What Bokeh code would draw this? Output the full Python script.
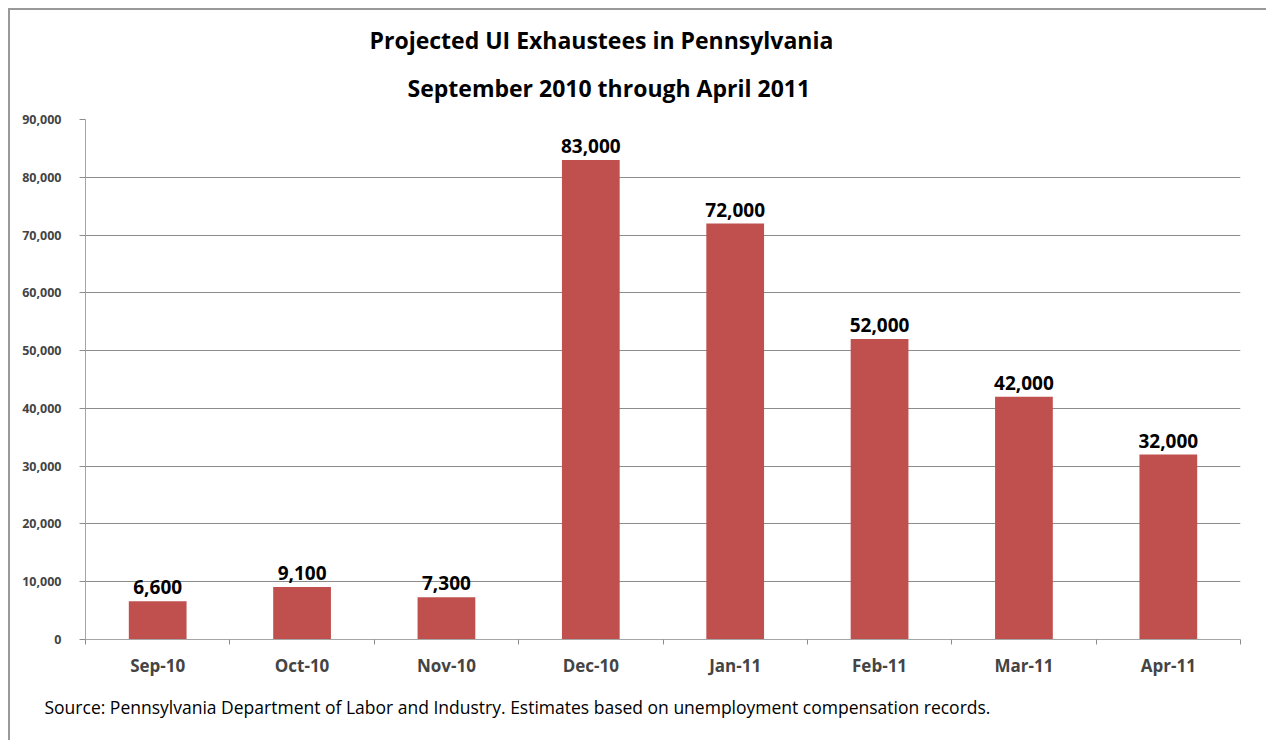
from bokeh.plotting import figure
from bokeh.models import (Range1d, LinearAxis, FixedTicker, Title,
                          NumeralTickFormatter, ColumnDataSource, LabelSet)
from bokeh.core.properties import value
from bokeh.embed import file_html
from bokeh.resources import INLINE

months = ["Sep-10", "Oct-10", "Nov-10", "Dec-10", "Jan-11", "Feb-11", "Mar-11", "Apr-11"]
exhaustees = [6600, 9100, 7300, 83000, 72000, 52000, 42000, 32000]
value_labels = ["6,600", "9,100", "7,300", "83,000", "72,000", "52,000", "42,000", "32,000"]
y_ticks = [0, 10000, 20000, 30000, 40000, 50000, 60000, 70000, 80000, 90000]
title_lines = ["Projected UI Exhaustees in Pennsylvania", "September 2010 through April 2011"]
source_note = "Source: Pennsylvania Department of Labor and Industry.  Estimates based on unemployment compensation records."

FONT = "Open Sans"
W, H = 1258, 732
GRAY = "#8c8c8c"

n = len(months)
centers = [i + 0.5 for i in range(n)]

p = figure(width=W, height=H, x_range=Range1d(0, n), y_range=Range1d(0, 90000),
           output_backend="svg", toolbar_location=None, x_axis_location=None,
           min_border_left=75, min_border_right=28, min_border_top=109, min_border_bottom=103)
p.styles = {"margin": "8px 0 0 8px",
            "border-left": "2px solid #999999", "border-top": "2px solid #999999"}
p.outline_line_color = None
p.background_fill_color = "white"
p.border_fill_color = "white"
p.xgrid.grid_line_color = None
p.ygrid.grid_line_color = GRAY
p.ygrid.ticker = FixedTicker(ticks=y_ticks)

# title: first line is the plot title (outermost), second line sits nearer the frame
p.title = Title(text=title_lines[0], align="left", offset=284, standoff=-4,
                text_font=FONT, text_font_style="bold", text_font_size="23px",
                text_color="black")
p.add_layout(Title(text=title_lines[1], align="left", offset=322, standoff=32,
                   text_font=FONT, text_font_style="bold", text_font_size="23px",
                   text_color="black"), "above")

yax = p.yaxis[0]
yax.ticker = FixedTicker(ticks=y_ticks)
yax.formatter = NumeralTickFormatter(format="0,0")
yax.axis_line_color = "#a6a6a6"
yax.major_tick_line_color = GRAY
yax.major_tick_out = 6
yax.major_tick_in = 0
yax.minor_tick_line_color = None
yax.major_label_text_font = FONT
yax.major_label_text_font_style = "bold"
yax.major_label_text_font_size = "12.5px"
yax.major_label_standoff = 18

# boundary ticks between categories
tick_axis = LinearAxis(ticker=FixedTicker(ticks=list(range(n + 1))))
tick_axis.axis_line_color = "#a6a6a6"
tick_axis.major_tick_line_color = GRAY
tick_axis.major_tick_out = 5
tick_axis.major_tick_in = 0
tick_axis.minor_tick_line_color = None
tick_axis.major_label_text_font_size = "1px"
tick_axis.major_label_text_color = None
tick_axis.major_label_standoff = 0
p.add_layout(tick_axis, "below")

# category labels at centers
cat_axis = LinearAxis(ticker=FixedTicker(ticks=centers))
cat_axis.axis_line_color = None
cat_axis.major_tick_line_color = None
cat_axis.minor_tick_line_color = None
cat_axis.major_label_text_font = FONT
cat_axis.major_label_text_font_style = "bold"
cat_axis.major_label_text_font_size = "17px"
cat_axis.major_label_standoff = 3
cat_axis.major_label_overrides = {c: m for c, m in zip(centers, months)}
p.add_layout(cat_axis, "below")

p.add_layout(Title(text=source_note, align="left", offset=-41, standoff=27,
                   text_font=FONT, text_font_style="normal", text_font_size="17.5px",
                   text_color="black"), "below")

src = ColumnDataSource(dict(x=centers, value=exhaustees, label=value_labels))
p.vbar(x="x", top="value", width=0.4, source=src, fill_color="#c0504d", line_color=None)

p.add_layout(LabelSet(x="x", y="value", text="label", source=src, y_offset=7,
                      text_align="center", text_baseline="bottom", text_font=value(FONT),
                      text_font_style="bold", text_font_size="19px", text_color="black"))

open("out.html", "w").write(file_html(p, INLINE))
